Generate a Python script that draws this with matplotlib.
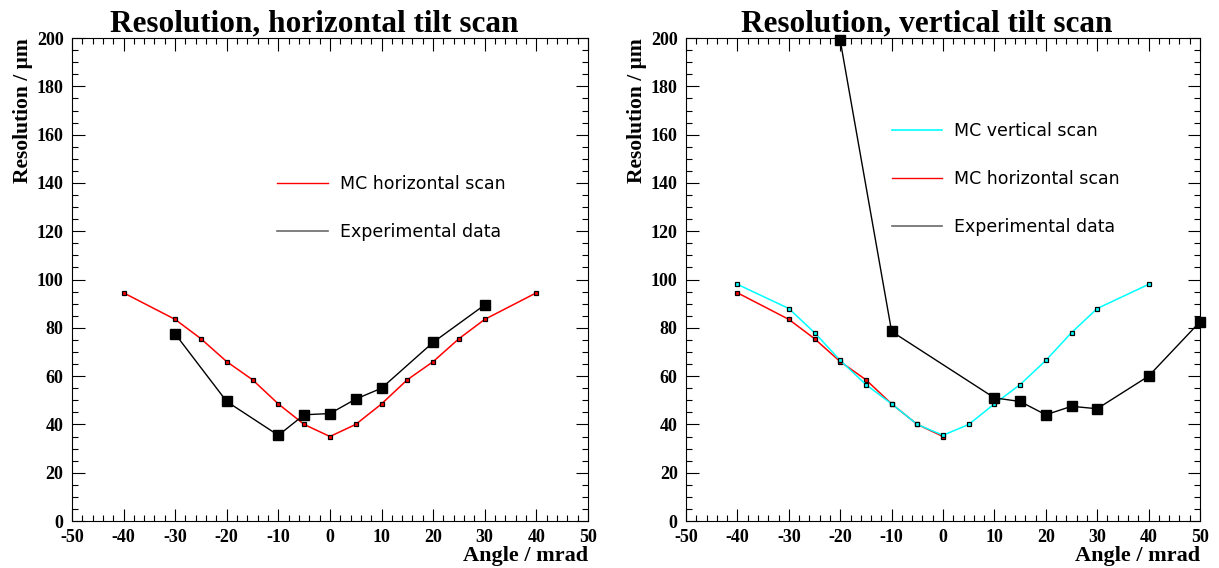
import matplotlib
matplotlib.use("Agg")
import matplotlib.pyplot as plt
from matplotlib.lines import Line2D
from matplotlib.ticker import MultipleLocator

plt.rcParams["axes.unicode_minus"] = False

# MC horizontal scan (red)
mc_h_x = [-40, -30, -25, -20, -15, -10, -5, 0, 5, 10, 15, 20, 25, 30, 40]
mc_h_y = [94.5, 83.5, 75.5, 66, 58.5, 48.5, 40, 35, 40, 48.5, 58.5, 66, 75.5, 83.5, 94.5]

# MC vertical scan (cyan)
mc_v_x = [-40, -30, -25, -20, -15, -10, -5, 0, 5, 10, 15, 20, 25, 30, 40]
mc_v_y = [98, 88, 78, 66.5, 56.5, 48.5, 40, 35.5, 40, 48.5, 56.5, 66.5, 78, 88, 98]

# MC horizontal, as drawn in the vertical-scan panel
mc_h2_x = [-40, -30, -25, -20, -15, -10, -5, 0]
mc_h2_y = [94.5, 83.5, 75.5, 66, 58.5, 48.5, 40, 35]

# Experimental data
exp_h_x = [-30, -20, -10, -5, 0, 5, 10, 20, 30]
exp_h_y = [77.5, 49.5, 35.5, 44, 44.5, 50.5, 55, 74, 89.5]
exp_v_x = [-20, -10, 10, 15, 20, 25, 30, 40, 50]
exp_v_y = [199, 78.5, 51, 49.5, 44, 47.5, 46.5, 60, 82.5]

serif = "Liberation Serif"

fig = plt.figure(figsize=(12.19, 5.68), dpi=100)
ax1 = fig.add_axes([0.059, 0.0827, 0.4233, 0.8503])
ax2 = fig.add_axes([0.5628, 0.0827, 0.4216, 0.8503])


def style(ax, title):
    ax.set_xlim(-50, 50)
    ax.set_ylim(0, 200)
    ax.xaxis.set_major_locator(MultipleLocator(10))
    ax.xaxis.set_minor_locator(MultipleLocator(2))
    ax.yaxis.set_major_locator(MultipleLocator(20))
    ax.yaxis.set_minor_locator(MultipleLocator(5))
    ax.tick_params(which="both", direction="in", top=True, right=True, width=0.8)
    ax.tick_params(which="major", length=9, pad=6)
    ax.tick_params(which="minor", length=4.5)
    for lab in ax.get_xticklabels() + ax.get_yticklabels():
        lab.set_fontfamily(serif)
        lab.set_fontweight("bold")
        lab.set_fontsize(13)
    ax.set_title(title, fontfamily=serif, fontweight="bold", fontsize=22.5, pad=1, x=0.469)
    ax.set_ylabel("Resolution / μm", fontfamily=serif, fontweight="bold", fontsize=15.5,
                  loc="top", labelpad=3)
    ax.set_xlabel("Angle / mrad", fontfamily=serif, fontweight="bold", fontsize=16,
                  loc="right", labelpad=0)


mc_kw = dict(lw=1.1, marker="s", ms=3, mec="black", mew=0.9)
exp_kw = dict(color="black", lw=1.0, marker="s", ms=7.5, mfc="black", mec="black")
leg_kw = dict(loc="upper left", frameon=False, handlelength=2.9, handletextpad=0.7,
              labelspacing=1.75, borderpad=0, prop={"family": "DejaVu Sans", "size": 12.5})

# Left panel
ax1.plot(mc_h_x, mc_h_y, color="red", mfc="red", **mc_kw)
ax1.plot(exp_h_x, exp_h_y, **exp_kw)
style(ax1, "Resolution, horizontal tilt scan")
ax1.legend([Line2D([], [], color="red", lw=1), Line2D([], [], color="dimgray", lw=1.2)],
           ["MC horizontal scan", "Experimental data"],
           bbox_to_anchor=(0.381, 0.735), **leg_kw)

# Right panel
ax2.plot(mc_h2_x, mc_h2_y, color="red", mfc="red", **mc_kw)
ax2.plot(mc_v_x, mc_v_y, color="cyan", mfc="cyan", **mc_kw)
ax2.plot(exp_v_x, exp_v_y, clip_on=False, **exp_kw)
style(ax2, "Resolution, vertical tilt scan")
ax2.legend([Line2D([], [], color="cyan", lw=1.2), Line2D([], [], color="red", lw=1),
            Line2D([], [], color="dimgray", lw=1.2)],
           ["MC vertical scan", "MC horizontal scan", "Experimental data"],
           bbox_to_anchor=(0.383, 0.845), **leg_kw)

fig.savefig("out.png", dpi=100)
